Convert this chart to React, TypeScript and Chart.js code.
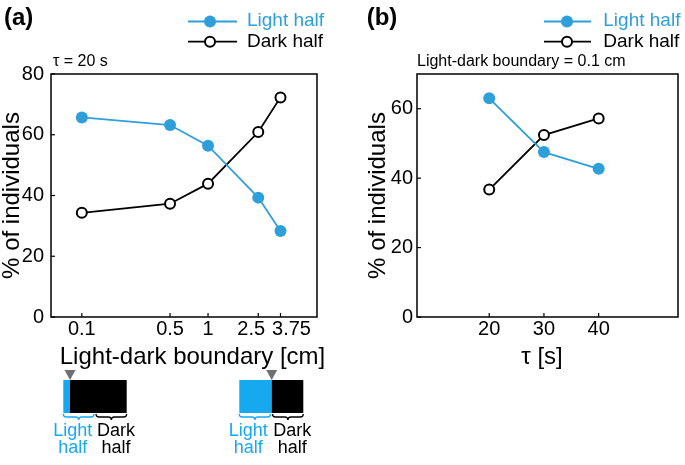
import React, { useEffect, useRef } from "react";
import { Chart, registerables } from "chart.js";

Chart.register(...registerables);

// ---------- data ----------
const boundaryCm = [0.1, 0.5, 1, 2.5, 3.75];
const lightHalfA = [65.7, 63.2, 56.4, 39.3, 28.3];
const darkHalfA = [34.3, 37.3, 43.9, 60.9, 72.3];

const tauS = [20, 30, 40];
const lightHalfB = [63.0, 47.5, 42.7];
const darkHalfB = [36.7, 52.4, 57.2];

const xTickLabelsA = ["0.1", "0.5", "1", "2.5", "3.75"];
const xTicksB = [20, 30, 40];

const seriesNames = ["Light half", "Dark half"];

// ---------- styles ----------
const BLUE = "#2f9fdc";
const DIAG_BLUE = "#17a9f0";
const FONT = '"Liberation Sans", Arial, Helvetica, sans-serif';

Chart.defaults.font.family = FONT;
Chart.defaults.color = "#000";

type Ctx = CanvasRenderingContext2D;

function line(ctx: Ctx, x0: number, y0: number, x1: number, y1: number) {
  ctx.beginPath();
  ctx.moveTo(x0, y0);
  ctx.lineTo(x1, y1);
  ctx.stroke();
}

function drawLegend(ctx: Ctx, x0: number, x1: number, mx: number, tx: number, y1: number, y2: number) {
  ctx.save();
  ctx.lineWidth = 1.8;
  ctx.strokeStyle = BLUE;
  line(ctx, x0, y1, x1, y1);
  ctx.fillStyle = BLUE;
  ctx.beginPath();
  ctx.arc(mx, y1, 6, 0, Math.PI * 2);
  ctx.fill();
  ctx.strokeStyle = "#000";
  line(ctx, x0, y2, x1, y2);
  ctx.beginPath();
  ctx.arc(mx, y2, 5, 0, Math.PI * 2);
  ctx.fillStyle = "#fff";
  ctx.fill();
  ctx.lineWidth = 2;
  ctx.stroke();
  ctx.font = `19px ${FONT}`;
  ctx.textAlign = "left";
  ctx.textBaseline = "middle";
  ctx.fillStyle = BLUE;
  ctx.fillText(seriesNames[0], tx, y1 - 0.5);
  ctx.fillStyle = "#000";
  ctx.fillText(seriesNames[1], tx, y2);
  ctx.restore();
}

function drawFrame(chart: any) {
  const ctx: Ctx = chart.ctx;
  const a = chart.chartArea;
  ctx.save();
  ctx.strokeStyle = "#000";
  ctx.lineWidth = 1.5;
  ctx.strokeRect(a.left, a.top, a.right - a.left, a.bottom - a.top);
  ctx.lineWidth = 1.2;
  const ys = chart.scales.y;
  ys.ticks.forEach((t: any) => {
    const p = ys.getPixelForValue(t.value);
    line(ctx, a.left, p, a.left + 4, p);
  });
  const xs = chart.scales.x;
  xs.ticks.forEach((t: any) => {
    const p = xs.getPixelForValue(t.value);
    line(ctx, p, a.bottom, p, a.bottom - 4);
  });
  ctx.restore();
}

function brace(ctx: Ctx, xa: number, xb: number, y0: number, color: string) {
  const m = (xa + xb) / 2;
  const d = 3;
  ctx.save();
  ctx.strokeStyle = color;
  ctx.lineWidth = 1.3;
  ctx.beginPath();
  ctx.moveTo(xa, y0);
  ctx.quadraticCurveTo(xa, y0 + d, xa + d, y0 + d);
  ctx.lineTo(m - d, y0 + d);
  ctx.quadraticCurveTo(m, y0 + d, m, y0 + 2 * d);
  ctx.quadraticCurveTo(m, y0 + d, m + d, y0 + d);
  ctx.lineTo(xb - d, y0 + d);
  ctx.quadraticCurveTo(xb, y0 + d, xb, y0);
  ctx.stroke();
  ctx.restore();
}

function drawArena(ctx: Ctx, x0: number, xb: number, x1: number, xm: number, lightX: number, darkX: number) {
  const top = 380;
  const bot = 413;
  ctx.save();
  ctx.fillStyle = DIAG_BLUE;
  ctx.fillRect(x0, top, xb - x0, bot - top);
  ctx.fillStyle = "#000";
  ctx.fillRect(xb, top, x1 - xb, bot - top);
  ctx.fillStyle = "#707070";
  ctx.beginPath();
  ctx.moveTo(xb - 5.5, 370);
  ctx.lineTo(xb + 5.5, 370);
  ctx.lineTo(xb, 380);
  ctx.closePath();
  ctx.fill();
  brace(ctx, x0, xm - 1, bot + 1, DIAG_BLUE);
  brace(ctx, xm + 1, x1, bot + 1, "#000");
  ctx.font = `18px ${FONT}`;
  ctx.textAlign = "center";
  ctx.textBaseline = "middle";
  ctx.fillStyle = DIAG_BLUE;
  ctx.fillText("Light", lightX, 431);
  ctx.fillText("half", lightX, 448.5);
  ctx.fillStyle = "#000";
  ctx.fillText("Dark", darkX, 431);
  ctx.fillText("half", darkX, 448.5);
  ctx.restore();
}

const extrasA = {
  id: "extrasA",
  afterDraw(chart: any) {
    const ctx: Ctx = chart.ctx;
    drawFrame(chart);
    ctx.save();
    // x tick labels (2.5 and 3.75 nudged apart as in the figure)
    const xs = chart.scales.x;
    const shift = [0, 0, 0, -7, 11];
    ctx.font = `20px ${FONT}`;
    ctx.fillStyle = "#000";
    ctx.textAlign = "center";
    ctx.textBaseline = "middle";
    boundaryCm.forEach((v, i) => {
      ctx.fillText(xTickLabelsA[i], xs.getPixelForValue(v) + shift[i], 329);
    });
    ctx.font = `bold 24px ${FONT}`;
    ctx.textAlign = "left";
    ctx.fillText("(a)", 4, 18);
    ctx.font = `16px ${FONT}`;
    ctx.fillText("τ = 20 s", 53, 62);
    ctx.font = `24px ${FONT}`;
    ctx.textAlign = "center";
    ctx.fillText("Light-dark boundary [cm]", 192.5, 357);
    ctx.restore();
    drawLegend(ctx, 188, 237, 210, 247, 21.5, 41.7);
    drawArena(ctx, 63.3, 70, 126.7, 95, 72.7, 116);
    drawArena(ctx, 239.3, 271.7, 303.3, 271.5, 248.3, 292.3);
  },
};

const extrasB = {
  id: "extrasB",
  afterDraw(chart: any) {
    const ctx: Ctx = chart.ctx;
    drawFrame(chart);
    ctx.save();
    ctx.fillStyle = "#000";
    ctx.textBaseline = "middle";
    ctx.font = `bold 24px ${FONT}`;
    ctx.textAlign = "left";
    ctx.fillText("(b)", 26.7, 18);
    ctx.font = `16px ${FONT}`;
    ctx.fillText("Light-dark boundary = 0.1 cm", 77, 61.5);
    ctx.font = `24px ${FONT}`;
    ctx.textAlign = "center";
    ctx.fillText("τ [s]", 202, 357);
    ctx.restore();
    drawLegend(ctx, 204, 251, 227, 263.3, 21.5, 41.7);
  },
};

function datasets(xs: number[], light: number[], dark: number[]) {
  return [
    {
      label: seriesNames[0],
      data: xs.map((x, i) => ({ x, y: light[i] })),
      borderColor: BLUE,
      backgroundColor: BLUE,
      borderWidth: 1.8,
      pointRadius: 6,
      pointBackgroundColor: BLUE,
      pointBorderColor: BLUE,
      pointBorderWidth: 0,
      tension: 0,
    },
    {
      label: seriesNames[1],
      data: xs.map((x, i) => ({ x, y: dark[i] })),
      borderColor: "#000",
      backgroundColor: "#fff",
      borderWidth: 1.8,
      pointRadius: 5,
      pointBackgroundColor: "#fff",
      pointBorderColor: "#000",
      pointBorderWidth: 2,
      tension: 0,
    },
  ];
}

export default function App() {
  const refA = useRef<HTMLCanvasElement>(null);
  const refB = useRef<HTMLCanvasElement>(null);

  useEffect(() => {
    const chartA = new Chart(refA.current as HTMLCanvasElement, {
      type: "line",
      data: { datasets: datasets(boundaryCm, lightHalfA, darkHalfA) as any },
      options: {
        animation: false,
        responsive: false,
        devicePixelRatio: 1,
        layout: { padding: { left: 0, top: 74, right: 23, bottom: 118 } },
        plugins: { legend: { display: false }, tooltip: { enabled: false }, title: { display: false } },
        scales: {
          x: {
            type: "logarithmic",
            min: 0.057,
            max: 7.3,
            grid: { display: false, drawTicks: false },
            border: { display: false },
            ticks: { display: false },
            afterBuildTicks: (s: any) => {
              s.ticks = boundaryCm.map((value) => ({ value }));
            },
            afterFit: (s: any) => {
              s.height = 30;
            },
          },
          y: {
            type: "linear",
            min: 0,
            max: 80,
            grid: { display: false, drawTicks: false },
            border: { display: false },
            ticks: { stepSize: 20, padding: 7, font: { size: 20 } },
            title: {
              display: true,
              text: "% of individuals",
              font: { size: 24, lineHeight: 1 },
              padding: { top: 0, bottom: 0 },
            },
            afterFit: (s: any) => {
              s.width = 51;
            },
          },
        },
      },
      plugins: [extrasA],
    } as any);

    const chartB = new Chart(refB.current as HTMLCanvasElement, {
      type: "line",
      data: { datasets: datasets(tauS, lightHalfB, darkHalfB) as any },
      options: {
        animation: false,
        responsive: false,
        devicePixelRatio: 1,
        layout: { padding: { left: 0, top: 74, right: 2, bottom: 118 } },
        plugins: { legend: { display: false }, tooltip: { enabled: false }, title: { display: false } },
        scales: {
          x: {
            type: "linear",
            min: 6.8,
            max: 54.5,
            grid: { display: false, drawTicks: false },
            border: { display: false },
            ticks: { padding: 0, font: { size: 20 } },
            afterBuildTicks: (s: any) => {
              s.ticks = xTicksB.map((value) => ({ value }));
            },
            afterFit: (s: any) => {
              s.height = 30;
            },
          },
          y: {
            type: "linear",
            min: 0,
            max: 70,
            grid: { display: false, drawTicks: false },
            border: { display: false },
            ticks: { stepSize: 20, padding: 4, includeBounds: false, font: { size: 20 } },
            title: {
              display: true,
              text: "% of individuals",
              font: { size: 24, lineHeight: 1 },
              padding: { top: 26, bottom: 0 },
            },
            afterFit: (s: any) => {
              s.width = 77;
            },
          },
        },
      },
      plugins: [extrasB],
    } as any);

    return () => {
      chartA.destroy();
      chartB.destroy();
    };
  }, []);

  return (
    <div
      style={{
        position: "fixed",
        left: 0,
        top: 0,
        width: 685,
        height: 465,
        background: "#fff",
        overflow: "hidden",
      }}
    >
      <canvas
        ref={refA}
        width={340}
        height={465}
        style={{ position: "absolute", left: 0, top: 0, width: 340, height: 465 }}
      />
      <canvas
        ref={refB}
        width={345}
        height={465}
        style={{ position: "absolute", left: 340, top: 0, width: 345, height: 465 }}
      />
    </div>
  );
}
